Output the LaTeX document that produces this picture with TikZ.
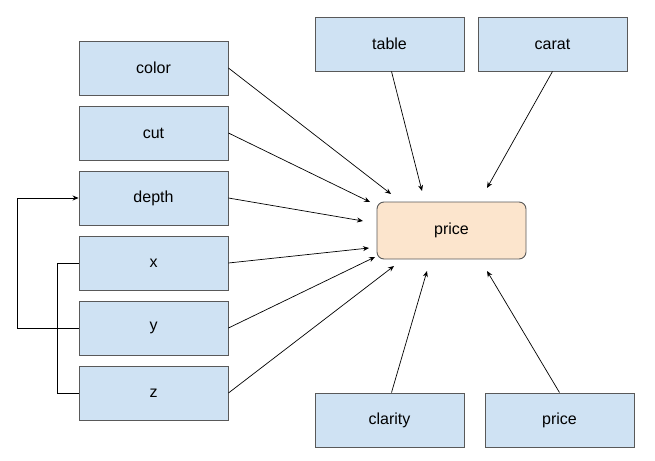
\documentclass[tikz,border=0pt]{standalone}
\usepackage{fontspec}
\setmainfont{Liberation Sans}
\usetikzlibrary{arrows.meta}
\definecolor{boxblue}{HTML}{CFE2F3}
\definecolor{boxpeach}{HTML}{FCE5CD}
\definecolor{boxline}{HTML}{595959}
\begin{document}
\begin{tikzpicture}[x=1pt,y=-1pt,
  feat/.style={draw=boxline,fill=boxblue,line width=0.9pt,minimum width=149pt,minimum height=54pt,inner sep=0pt,font=\fontsize{16}{18}\selectfont},
  target/.style={draw=boxline,fill=boxpeach,line width=0.9pt,rounded corners=7pt,minimum width=149pt,minimum height=57pt,inner sep=0pt,font=\fontsize{16}{18}\selectfont},
  conn/.style={draw=black,line width=0.7pt},
  arr/.style={conn,-{Stealth[length=6pt,width=5pt]}}]
\useasboundingbox (0,0) rectangle (655,460);
% left column
\node[feat] (color) at (153.5,68) {color};
\node[feat] (cut) at (153.5,133) {cut};
\node[feat] (depth) at (153.5,198) {depth};
\node[feat] (x) at (153.5,263) {x};
\node[feat] (y) at (153.5,328) {y};
\node[feat] (z) at (153.5,393) {z};
% top / bottom
\node[feat] (table) at (389.5,44) {table};
\node[feat] (carat) at (552.5,44) {carat};
\node[feat] (clarity) at (389.5,420) {clarity};
\node[feat] (price2) at (559.5,420) {price};
% target
\node[target] (price) at (451.5,230.5) {price};
% arrow ends near target
\coordinate (e1) at (391,194);
\coordinate (e2) at (370,202);
\coordinate (e3) at (363,221);
\coordinate (e4) at (369,248);
\coordinate (e5) at (375,257);
\coordinate (e6) at (394,266);
\coordinate (e7) at (422,191);
\coordinate (e8) at (487,188);
\coordinate (e9) at (427,271);
\coordinate (e10) at (487,271);
\draw[arr] (color.east) -- (e1);
\draw[arr] (cut.east) -- (e2);
\draw[arr] (depth.east) -- (e3);
\draw[arr] (x.east) -- (e4);
\draw[arr] (y.east) -- (e5);
\draw[arr] (z.east) -- (e6);
\draw[arr] ([xshift=2pt]table.south) -- (e7);
\draw[arr] (carat.south) -- (e8);
\draw[arr] ([xshift=2pt]clarity.north) -- (e9);
\draw[arr] (price2.north) -- (e10);
% left connectors
\coordinate (bar) at (57,263);
\draw[conn] (x.west) -- (bar) |- (z.west);
\draw[conn] (bar |- y.west) -- (y.west);
\draw[arr] (y.west) -- ++(-61,0) |- (depth.west);
\end{tikzpicture}
\end{document}
